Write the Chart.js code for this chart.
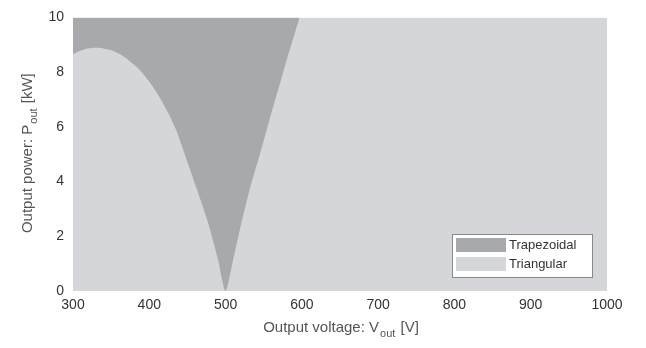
<!DOCTYPE html>
<html>
<head>
<meta charset="utf-8">
<script src="https://cdn.jsdelivr.net/npm/chart.js@4/dist/chart.umd.min.js"></script>
<style>
  html, body { margin: 0; padding: 0; background: #fff; }
  #wrap { width: 646px; height: 348px; }
</style>
</head>
<body>
<div id="wrap"><canvas id="modeChart" width="646" height="348"></canvas></div>
<script>
// boundary between trapezoidal (above) and triangular (below) modes
const boundaryV = [300, 315, 332, 350, 365, 385, 400, 411, 425, 435, 447, 462, 477, 490, 500,
                   510, 520, 532, 545, 560, 573, 585, 597];
const boundaryP = [8.66, 8.84, 8.89, 8.80, 8.60, 8.15, 7.65, 7.20, 6.50, 5.90, 4.95, 3.75, 2.50, 1.15, 0,
                   1.15, 2.40, 3.75, 5.00, 6.50, 7.75, 8.90, 10];
const fullV = [300, 1000];
const fullP = [10, 10];
const xTicks = [300, 400, 500, 600, 700, 800, 900, 1000];
const yTicks = [0, 2, 4, 6, 8, 10];

const darkGray = '#a8a9ad';
const lightGray = '#d4d6d9';
const font = 'Liberation Sans, Arial, sans-serif';

// draws axis titles with subscripts and the boxed legend
const extras = {
    id: 'extras',
    afterDraw(chart) {
        const ctx = chart.ctx;
        const a = chart.chartArea;
        ctx.save();
        ctx.fillStyle = '#555';
        ctx.textBaseline = 'alphabetic';

        // x title
        const parts = ['Output voltage: V', 'out', ' [V]'];
        ctx.font = '15px ' + font;
        const w1 = ctx.measureText(parts[0]).width;
        const w3 = ctx.measureText(parts[2]).width;
        ctx.font = '11px ' + font;
        const w2 = ctx.measureText(parts[1]).width;
        let x = (a.left + a.right) / 2 - (w1 + w2 + w3) / 2;
        const y = 332;
        ctx.font = '15px ' + font;
        ctx.textAlign = 'left';
        ctx.fillText(parts[0], x, y);
        ctx.font = '11px ' + font;
        ctx.fillText(parts[1], x + w1 + 1, y + 5);
        ctx.font = '15px ' + font;
        ctx.fillText(parts[2], x + w1 + w2 + 2, y);

        // y title
        ctx.translate(32, (a.top + a.bottom) / 2);
        ctx.rotate(-Math.PI / 2);
        const q = ['Output power: P', 'out', ' [kW]'];
        ctx.font = '15px ' + font;
        const q1 = ctx.measureText(q[0]).width;
        const q3 = ctx.measureText(q[2]).width;
        ctx.font = '11px ' + font;
        const q2 = ctx.measureText(q[1]).width;
        let yx = -(q1 + q2 + q3) / 2;
        ctx.font = '15px ' + font;
        ctx.fillText(q[0], yx, 0);
        ctx.font = '11px ' + font;
        ctx.fillText(q[1], yx + q1 + 1, 5);
        ctx.font = '15px ' + font;
        ctx.fillText(q[2], yx + q1 + q2 + 2, 0);
        ctx.restore();

        // legend box inside the plot
        ctx.save();
        const bx = 452, by = 234, bw = 140, bh = 43;
        ctx.fillStyle = '#fff';
        ctx.fillRect(bx, by, bw, bh);
        ctx.strokeStyle = '#888';
        ctx.lineWidth = 1;
        ctx.strokeRect(bx + 0.5, by + 0.5, bw, bh);
        ctx.font = '13px ' + font;
        ctx.textAlign = 'left';
        ctx.textBaseline = 'middle';
        chart.data.datasets.forEach((ds, i) => {
            const ry = by + 4 + i * 19;
            ctx.fillStyle = ds.backgroundColor;
            ctx.fillRect(bx + 4, ry, 50, 14);
            ctx.fillStyle = '#333';
            ctx.fillText(ds.label, bx + 57, ry + 7);
        });
        ctx.restore();
    }
};

const ctx = document.getElementById('modeChart').getContext('2d');
new Chart(ctx, {
    type: 'line',
    data: {
        datasets: [{
            label: 'Trapezoidal',
            data: boundaryV.map((v, i) => ({ x: v, y: boundaryP[i] })),
            backgroundColor: darkGray,
            borderWidth: 0,
            pointRadius: 0,
            tension: 0.25,
            fill: 'end'
        }, {
            label: 'Triangular',
            data: fullV.map((v, i) => ({ x: v, y: fullP[i] })),
            backgroundColor: lightGray,
            borderWidth: 0,
            pointRadius: 0,
            fill: 'origin'
        }]
    },
    options: {
        responsive: false,
        animation: false,
        layout: { padding: { left: 0, right: 39, top: 11, bottom: 0 } },
        plugins: {
            legend: { display: false },
            tooltip: { enabled: false }
        },
        scales: {
            x: {
                type: 'linear',
                min: 300,
                max: 1000,
                afterBuildTicks: s => { s.ticks = xTicks.map(v => ({ value: v })); },
                afterFit: s => { s.height = 57; },
                grid: { display: false, drawTicks: false },
                border: { display: false },
                ticks: { color: '#333', font: { family: font, size: 14 }, padding: 6, maxRotation: 0,
                         callback: v => String(v) }
            },
            y: {
                min: 0,
                max: 10,
                afterBuildTicks: s => { s.ticks = yTicks.map(v => ({ value: v })); },
                afterFit: s => { s.width = 73; },
                grid: { display: false, drawTicks: false },
                border: { display: false },
                ticks: { color: '#333', font: { family: font, size: 14 }, padding: 9,
                         callback: v => String(v) }
            }
        }
    },
    plugins: [extras]
});
</script>
</body>
</html>
